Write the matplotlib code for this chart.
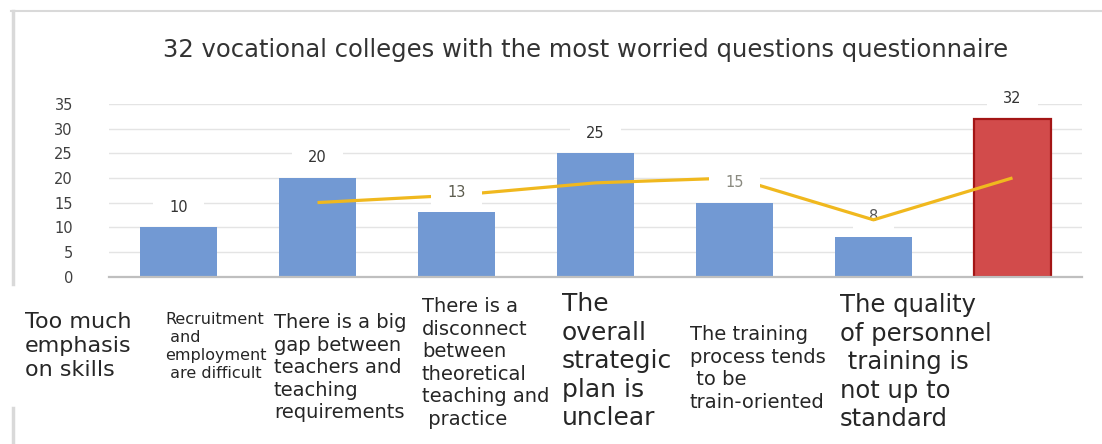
import matplotlib.pyplot as plt
from matplotlib.lines import Line2D


W, H = 1102, 444

title = "32 vocational colleges with the most worried questions questionnaire"

categories = [
    "Too much\nemphasis\non skills",
    "Recruitment\n and\nemployment\n are difficult",
    "There is a big\ngap between\nteachers and\nteaching\nrequirements",
    "There is a\ndisconnect\nbetween\ntheoretical\nteaching and\n practice",
    "The\noverall\nstrategic\nplan is\nunclear",
    "The training\nprocess tends\n to be\ntrain-oriented",
    "The quality\nof personnel\n training is\nnot up to\nstandard",
]
counts = [10, 20, 13, 25, 15, 8, 32]
# yellow trend line, starts at the second bar
trend = [15, 16.5, 19, 20, 11.5, 20]
y_ticks = [0, 5, 10, 15, 20, 25, 30, 35]

# caption placement (pixels from left / top) and font sizes
label_pos = [(25, 312), (165, 312), (274, 313), (422, 297), (562, 292), (690, 325), (840, 293)]
label_size = [16, 11.5, 14, 14, 18, 14, 17.5]


def px(x, y):
    return x / W, 1 - y / H


def main():
    fig = plt.figure(figsize=(W / 100, H / 100), dpi=100)
    ax = fig.add_axes([109 / W, 1 - 276.5 / H, 973 / W, 172.5 / H])

    x = list(range(len(counts)))
    colors = ["#7299D3"] * (len(counts) - 1) + ["#D24B4B"]
    edges = ["none"] * (len(counts) - 1) + ["#A31515"]
    widths = [0] * (len(counts) - 1) + [1.6]
    ax.bar(x, counts, width=0.555, color=colors, edgecolor=edges, linewidth=widths, zorder=2)

    ax.plot(x[1:], trend, color="#F0B81E", linewidth=2.3, zorder=3, solid_capstyle="butt")

    for i, v in enumerate(counts):
        col = "#333333"
        z = 4
        if v == 13:
            col = "#5c5c4e"
        elif v == 15:
            col = "#8a8a80"
        elif v == 8:
            col = "#555555"
            z = 2.5
        ax.annotate(
            str(v), (i, v), xytext=(0, 14.5), textcoords="offset points",
            ha="center", va="center", fontsize=10.5, color=col, zorder=z,
            bbox=dict(boxstyle="square,pad=1.1", fc="white", ec="none", mutation_aspect=0.3),
        )

    ax.set_xlim(-0.5, 6.5)
    ax.set_ylim(0, 35)
    ax.set_yticks(y_ticks)
    ax.set_xticks([])
    ax.yaxis.grid(True, color="#e4e4e4", linewidth=1)
    ax.set_axisbelow(True)
    for side in ("top", "right", "left"):
        ax.spines[side].set_visible(False)
    ax.spines["bottom"].set_color("#bfbfbf")
    ax.spines["bottom"].set_linewidth(1.6)
    ax.tick_params(axis="y", length=0, pad=26, labelsize=10.5, labelcolor="#404040")

    tx, ty = px(586, 57)
    fig.text(tx, ty, title, ha="center", va="baseline", fontsize=17.5, color="#333333")

    for cat, (lx, ly), fs in zip(categories, label_pos, label_size):
        fx, fy = px(lx, ly)
        fig.text(fx, fy, cat, ha="left", va="top", fontsize=fs, linespacing=1.24, color="#262626")

    # broken light-grey frame of the original screenshot
    fig.add_artist(Line2D([11 / W, 1], [1 - 11 / H] * 2, color="#d9d9d9", linewidth=1.5))
    fig.add_artist(Line2D([12.5 / W] * 2, [1 - 11 / H, 1 - 284 / H], color="#d9d9d9", linewidth=2.5))
    fig.add_artist(Line2D([12.5 / W] * 2, [1 - 408 / H, 0], color="#d9d9d9", linewidth=2.5))

    fig.savefig("out.png", dpi=100)
    plt.close(fig)


if __name__ == "__main__":
    main()
